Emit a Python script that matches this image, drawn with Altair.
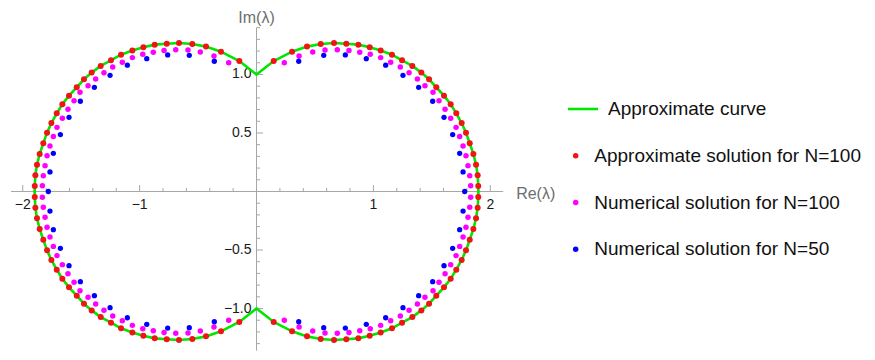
import altair as alt
import pandas as pd

# ---- readings from the picture: upper-left quadrant, from the cusp at (0, 1) to the real axis ----
curve_x = [0.0, -0.147, -0.304, -0.432, -0.549, -0.663, -0.768, -0.871, -0.968, -1.062, -1.159,
           -1.245, -1.333, -1.410, -1.476, -1.538, -1.604, -1.661, -1.709, -1.755, -1.792, -1.824,
           -1.855, -1.878, -1.892, -1.897, -1.898]
curve_y = [1.0, 1.115, 1.195, 1.238, 1.261, 1.269, 1.263, 1.255, 1.232, 1.204, 1.169,
           1.121, 1.073, 1.016, 0.959, 0.890, 0.819, 0.745, 0.668, 0.585, 0.503, 0.412,
           0.321, 0.229, 0.138, 0.047, 0.0]

red_x = [-0.147, -0.304, -0.432, -0.549, -0.663, -0.768, -0.871, -0.968, -1.062, -1.159,
         -1.245, -1.333, -1.410, -1.476, -1.538, -1.604, -1.661, -1.709, -1.755, -1.792,
         -1.824, -1.855, -1.878, -1.892, -1.897]
red_y = [1.115, 1.195, 1.238, 1.261, 1.269, 1.263, 1.255, 1.232, 1.204, 1.169,
         1.121, 1.073, 1.016, 0.959, 0.890, 0.819, 0.745, 0.668, 0.585, 0.503,
         0.412, 0.321, 0.229, 0.138, 0.047]

mag_x = [-0.238, -0.364, -0.481, -0.586, -0.691, -0.791, -0.883, -0.973, -1.062, -1.148,
         -1.230, -1.305, -1.376, -1.441, -1.510, -1.561, -1.613, -1.661, -1.707, -1.738,
         -1.767, -1.792, -1.809, -1.824, -1.832]
mag_y = [1.101, 1.158, 1.192, 1.209, 1.212, 1.204, 1.190, 1.172, 1.144, 1.104,
         1.064, 1.015, 0.962, 0.904, 0.848, 0.776, 0.702, 0.625, 0.548, 0.469,
         0.389, 0.306, 0.221, 0.135, 0.050]

blue_x = [-0.361, -0.575, -0.760, -0.939, -1.105, -1.253, -1.387, -1.507, -1.604, -1.678,
          -1.738, -1.767]
blue_y = [1.113, 1.164, 1.167, 1.135, 1.079, 0.993, 0.890, 0.771, 0.634, 0.486,
          0.326, 0.167]
blue_axis_x = [-1.781]   # N=50 eigenvalue lying on the real axis

# ---- axes ----
x_axis_range = [-2.1, 2.11]
y_axis_range = [-1.36, 1.4]
x_major = [-2, -1, 1, 2]
x_major_labels = ["\u22122", "\u22121", "1", "2"]
x_minor = [-1.8, -1.6, -1.4, -1.2, -0.8, -0.6, -0.4, -0.2, 0.2, 0.4, 0.6, 0.8, 1.2, 1.4, 1.6, 1.8]
y_major = [-1.0, -0.5, 0.5, 1.0]
y_major_labels = ["\u22121.0", "\u22120.5", "0.5", "1.0"]
y_minor = [-1.3, -1.2, -1.1, -0.9, -0.8, -0.7, -0.6, -0.4, -0.3, -0.2, -0.1,
           0.1, 0.2, 0.3, 0.4, 0.6, 0.7, 0.8, 0.9, 1.1, 1.2, 1.3, 1.4]

legend_labels = ["Approximate curve", "Approximate solution for N=100",
                 "Numerical solution for N=100", "Numerical solution for N=50"]
legend_colors = ["#00e600", "#f01414", "#ff00ff", "#0000ff"]

FONT = "Liberation Sans"
AXIS_GRAY = "#a6a6a6"

# ---- build tables (mirror the quadrant readings, the figure is symmetric) ----
quads = [(1, 1), (-1, 1), (1, -1), (-1, -1)]
curve_rows = []
for q, (sx, sy) in enumerate(quads):
    for i, (x, y) in enumerate(zip(curve_x, curve_y)):
        curve_rows.append({"q": q, "i": i, "x": x * sx, "y": y * sy})
curve_df = pd.DataFrame(curve_rows)


def mirror(xs, ys):
    rows = []
    for sx, sy in quads:
        for x, y in zip(xs, ys):
            rows.append({"x": x * sx, "y": y * sy})
    return rows


red_df = pd.DataFrame(mirror(red_x, red_y))
mag_df = pd.DataFrame(mirror(mag_x, mag_y))
blue_rows = mirror(blue_x, blue_y) + [{"x": s * v, "y": 0.0} for v in blue_axis_x for s in (1, -1)]
blue_df = pd.DataFrame(blue_rows)

W, H = 858, 343
xs = alt.Scale(domain=[-2.126, 5.214], nice=False, zero=False)
ys = alt.Scale(domain=[-1.363, 1.568], nice=False, zero=False)


def X(f):
    return alt.X(f, type="quantitative", scale=xs, axis=None)


def Y(f):
    return alt.Y(f, type="quantitative", scale=ys, axis=None)


axis_df = pd.DataFrame({"x0": [x_axis_range[0]], "x1": [x_axis_range[1]],
                        "y0": [y_axis_range[0]], "y1": [y_axis_range[1]], "z": [0.0]})

x_axis = alt.Chart(axis_df).mark_rule(color=AXIS_GRAY, strokeWidth=1).encode(
    x=X("x0"), x2="x1:Q", y=Y("z"))
y_axis = alt.Chart(axis_df).mark_rule(color=AXIS_GRAY, strokeWidth=1).encode(
    y=Y("y0"), y2="y1:Q", x=X("z"))

xmaj_df = pd.DataFrame({"v": x_major, "t": x_major_labels, "z": 0.0})
ymaj_df = pd.DataFrame({"v": y_major, "t": y_major_labels, "z": 0.0})
xmin_df = pd.DataFrame({"v": x_minor, "z": 0.0})
ymin_df = pd.DataFrame({"v": y_minor, "z": 0.0})

x_major_ticks = alt.Chart(xmaj_df).mark_rule(color=AXIS_GRAY, y2Offset=-6.5).encode(
    x=X("v"), y=Y("z"), y2="z:Q")
x_minor_ticks = alt.Chart(xmin_df).mark_rule(color=AXIS_GRAY, y2Offset=-3.5).encode(
    x=X("v"), y=Y("z"), y2="z:Q")
y_major_ticks = alt.Chart(ymaj_df).mark_rule(color=AXIS_GRAY, x2Offset=6.5).encode(
    y=Y("v"), x=X("z"), x2="z:Q")
y_minor_ticks = alt.Chart(ymin_df).mark_rule(color=AXIS_GRAY, x2Offset=3.5).encode(
    y=Y("v"), x=X("z"), x2="z:Q")

x_tick_labels = alt.Chart(xmaj_df).mark_text(font=FONT, fontSize=14, color="#1a1a1a",
                                              baseline="middle", dy=14).encode(
    x=X("v"), y=Y("z"), text="t:N")
y_tick_labels = alt.Chart(ymaj_df).mark_text(font=FONT, fontSize=14, color="#1a1a1a",
                                              baseline="middle", align="right", dx=-5).encode(
    y=Y("v"), x=X("z"), text="t:N")

re_label = alt.Chart(axis_df).mark_text(font=FONT, fontSize=16, color="#6e6e6e", align="left",
                                        baseline="middle", dx=13, dy=3, text="Re(\u03bb)").encode(
    x=X("x1"), y=Y("z"))
im_label = alt.Chart(axis_df).mark_text(font=FONT, fontSize=16, color="#6e6e6e", align="center",
                                        baseline="middle", dy=-10, text="Im(\u03bb)").encode(
    x=X("z"), y=Y("y1"))

curve = alt.Chart(curve_df).mark_line(color=legend_colors[0], strokeWidth=2.6, strokeCap="round").encode(
    x=X("x"), y=Y("y"), detail="q:N", order="i:Q")
red_pts = alt.Chart(red_df).mark_circle(color=legend_colors[1], size=36, opacity=1).encode(x=X("x"), y=Y("y"))
mag_pts = alt.Chart(mag_df).mark_circle(color=legend_colors[2], size=30, opacity=1).encode(x=X("x"), y=Y("y"))
blue_pts = alt.Chart(blue_df).mark_circle(color=legend_colors[3], size=28, opacity=1).encode(x=X("x"), y=Y("y"))

# ---- legend (own vertical scale for the rows) ----
leg_df = pd.DataFrame({"label": legend_labels, "row": list(range(len(legend_labels)))})
ly = alt.Y("row:Q", scale=alt.Scale(domain=[0, 3], range=[101, 241.3], nice=False, zero=False), axis=None)
lc = alt.Color("label:N", scale=alt.Scale(domain=legend_labels, range=legend_colors), legend=None)
leg_base = alt.Chart(leg_df)

leg_line = leg_base.transform_filter("datum.row == 0").mark_rule(strokeWidth=2.6).encode(
    y=ly, x=alt.value(560), x2=alt.value(590), color=lc)
leg_dots = leg_base.transform_filter("datum.row > 0").mark_circle(size=30, opacity=1).encode(
    y=ly, x=alt.value(567.7), color=lc)
leg_text1 = leg_base.transform_filter("datum.row == 0").mark_text(
    font=FONT, fontSize=19, align="left", baseline="middle", color="#111111").encode(
    y=ly, x=alt.value(600), text="label:N")
leg_text2 = leg_base.transform_filter("datum.row > 0").mark_text(
    font=FONT, fontSize=19, align="left", baseline="middle", color="#111111").encode(
    y=ly, x=alt.value(586.3), text="label:N")

chart = alt.layer(
    x_axis, y_axis, x_major_ticks, x_minor_ticks, y_major_ticks, y_minor_ticks,
    x_tick_labels, y_tick_labels, re_label, im_label,
    curve, red_pts, mag_pts, blue_pts,
    leg_line, leg_dots, leg_text1, leg_text2,
).resolve_scale(y="independent").properties(
    width=W, height=H, padding=0
).configure_view(stroke=None)

chart.save("out.html", embed_options={"renderer": "svg", "actions": False})
